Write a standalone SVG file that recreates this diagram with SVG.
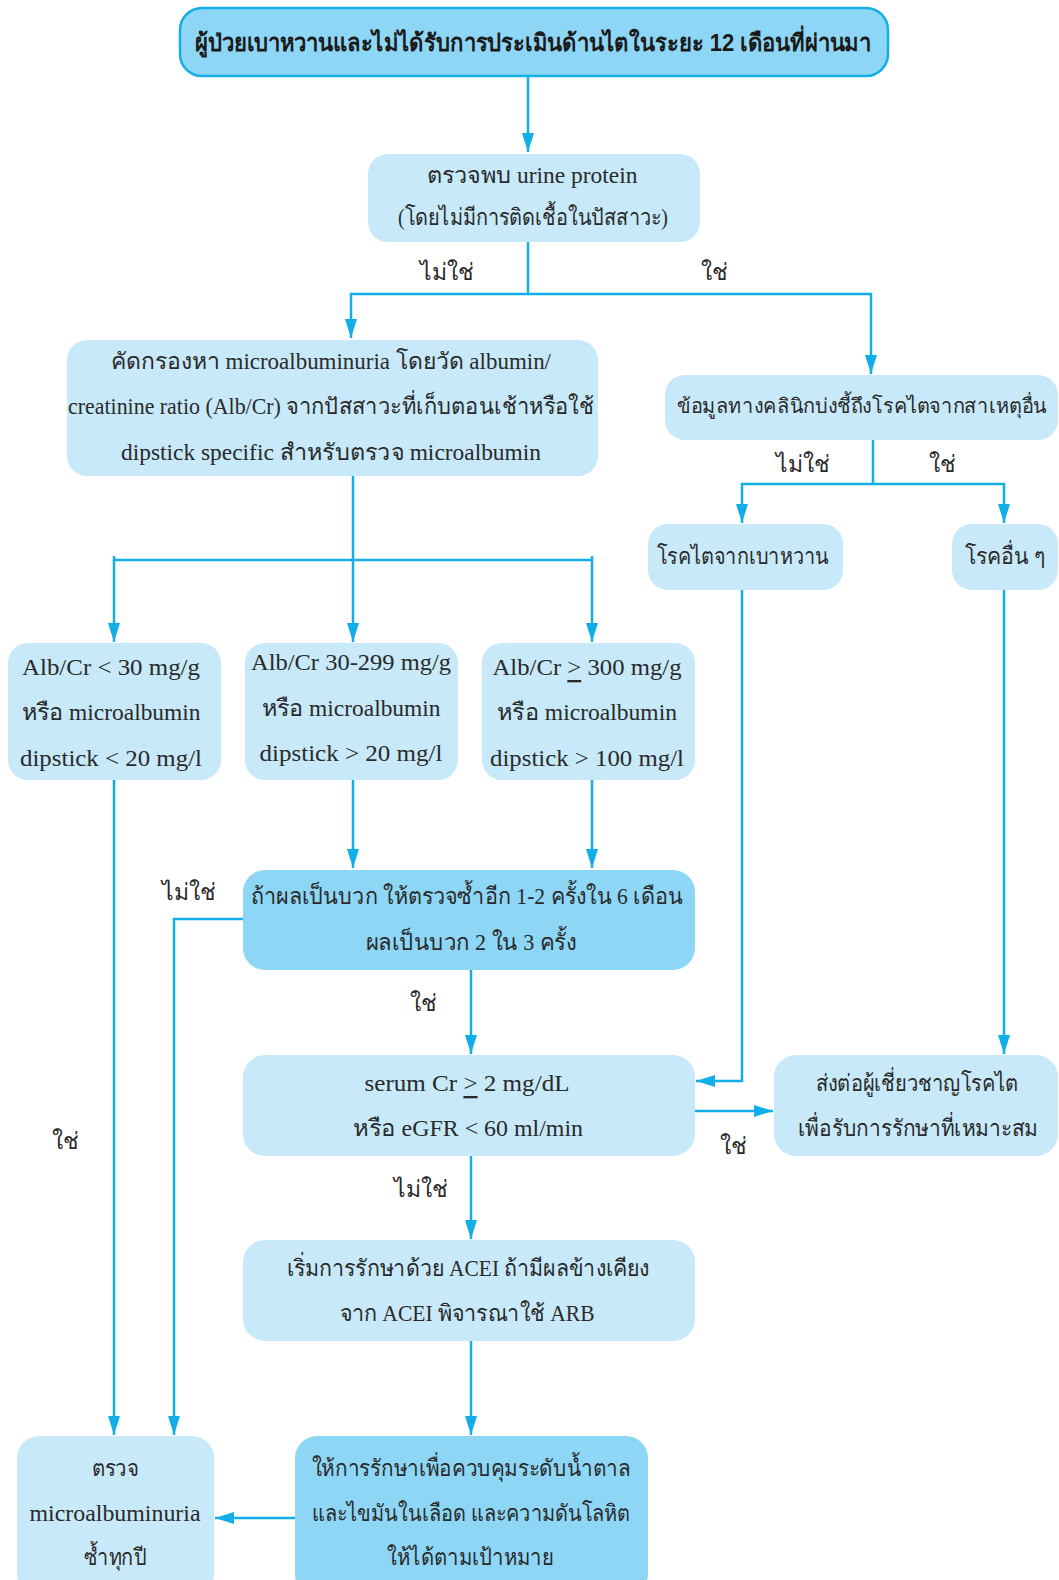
<svg xmlns="http://www.w3.org/2000/svg" width="1059" height="1580" viewBox="0 0 1059 1580">
<defs>
<marker id="ah" markerUnits="userSpaceOnUse" markerWidth="20" markerHeight="12" refX="19" refY="6" orient="auto">
<path d="M0,0 L19,6 L0,12 z" fill="#12aee8"/>
</marker>
<style>
.lt{fill:#c7e9f9}
.dk{fill:#8dd6f6}
.t{font-family:"Liberation Serif","Noto Sans",serif;font-size:23px;fill:#2a2a2a;text-anchor:middle;dominant-baseline:central}
.h{font-family:"Liberation Sans","Noto Sans",sans-serif;font-size:24px;font-weight:bold;fill:#1a1a1a;text-anchor:middle;dominant-baseline:central}
.c{fill:none;stroke:#12aee8;stroke-width:2.5}
</style>
</defs>
<rect width="1059" height="1580" fill="#ffffff"/>
<g id="connectors">
<path class="c" d="M528,76 V152" marker-end="url(#ah)"/>
<path class="c" d="M528,242 V294 H351 V338" marker-end="url(#ah)"/>
<path class="c" d="M528,294 H871 V374" marker-end="url(#ah)"/>
<path class="c" d="M873,440 V484 H742 V523" marker-end="url(#ah)"/>
<path class="c" d="M873,484 H1004 V523" marker-end="url(#ah)"/>
<path class="c" d="M353,476 V642" marker-end="url(#ah)"/>
<path class="c" d="M114,556 V560 H592 V556 M592,560 V642" marker-end="url(#ah)"/>
<path class="c" d="M114,560 V642" marker-end="url(#ah)"/>
<path class="c" d="M114,780 V1435" marker-end="url(#ah)"/>
<path class="c" d="M353,780 V868" marker-end="url(#ah)"/>
<path class="c" d="M592,780 V868" marker-end="url(#ah)"/>
<path class="c" d="M243,919 H174 V1435" marker-end="url(#ah)"/>
<path class="c" d="M471,970 V1054" marker-end="url(#ah)"/>
<path class="c" d="M742,590 V1081 H696" marker-end="url(#ah)"/>
<path class="c" d="M1004,590 V1054" marker-end="url(#ah)"/>
<path class="c" d="M695,1111 H773" marker-end="url(#ah)"/>
<path class="c" d="M471,1156 V1239" marker-end="url(#ah)"/>
<path class="c" d="M471,1341 V1435" marker-end="url(#ah)"/>
<path class="c" d="M295,1518 H215" marker-end="url(#ah)"/>
</g>
<g id="labels">
<text class="t" x="447" y="272">ไม่ใช่</text>
<text class="t" x="714" y="272">ใช่</text>
<text class="t" x="803" y="464">ไม่ใช่</text>
<text class="t" x="942" y="464">ใช่</text>
<text class="t" x="189" y="892">ไม่ใช่</text>
<text class="t" x="423" y="1003">ใช่</text>
<text class="t" x="733" y="1146">ใช่</text>
<text class="t" x="421" y="1189">ไม่ใช่</text>
<text class="t" x="65" y="1141">ใช่</text>
</g>
<g id="n1">
<rect x="180" y="8" width="708" height="68" rx="22" fill="#8dd6f6" stroke="#12aee8" stroke-width="2.5"/>
<text class="h" x="533" y="42" textLength="676" lengthAdjust="spacingAndGlyphs">ผู้ป่วยเบาหวานและไม่ได้รับการประเมินด้านไตในระยะ 12 เดือนที่ผ่านมา</text>
</g>
<g id="n2">
<rect class="lt" x="368" y="154" width="332" height="88" rx="20"/>
<text class="t" x="532" y="175" textLength="211" lengthAdjust="spacingAndGlyphs">ตรวจพบ urine protein</text>
<text class="t" x="533" y="217" textLength="270" lengthAdjust="spacingAndGlyphs">(โดยไม่มีการติดเชื้อในปัสสาวะ)</text>
</g>
<g id="n3">
<rect class="lt" x="67" y="340" width="531" height="136" rx="20"/>
<text class="t" x="331" y="361" textLength="440" lengthAdjust="spacingAndGlyphs">คัดกรองหา microalbuminuria โดยวัด albumin/</text>
<text class="t" x="331" y="406" textLength="526" lengthAdjust="spacingAndGlyphs">creatinine ratio (Alb/Cr) จากปัสสาวะที่เก็บตอนเช้าหรือใช้</text>
<text class="t" x="331" y="452" textLength="420" lengthAdjust="spacingAndGlyphs">dipstick specific สำหรับตรวจ microalbumin</text>
</g>
<g id="n4">
<rect class="lt" x="665" y="375" width="393" height="65" rx="20"/>
<text class="t" x="862" y="406" style="font-size:20.5px" textLength="370" lengthAdjust="spacingAndGlyphs">ข้อมูลทางคลินิกบ่งชี้ถึงโรคไตจากสาเหตุอื่น</text>
</g>
<g id="n5">
<rect class="lt" x="648" y="524" width="195" height="66" rx="20"/>
<text class="t" x="743" y="556" textLength="172" lengthAdjust="spacingAndGlyphs">โรคไตจากเบาหวาน</text>
</g>
<g id="n6">
<rect class="lt" x="952" y="524" width="106" height="66" rx="20"/>
<text class="t" x="1005" y="556" textLength="80" lengthAdjust="spacingAndGlyphs">โรคอื่น ๆ</text>
</g>
<g id="n7">
<rect class="lt" x="8" y="643" width="213" height="137" rx="20"/>
<text class="t" x="111" y="667" textLength="178" lengthAdjust="spacingAndGlyphs">Alb/Cr &lt; 30 mg/g</text>
<text class="t" x="111" y="712" textLength="179" lengthAdjust="spacingAndGlyphs">หรือ microalbumin</text>
<text class="t" x="111" y="758" textLength="182" lengthAdjust="spacingAndGlyphs">dipstick &lt; 20 mg/l</text>
</g>
<g id="n8">
<rect class="lt" x="245" y="643" width="213" height="137" rx="20"/>
<text class="t" x="351" y="662" textLength="200" lengthAdjust="spacingAndGlyphs">Alb/Cr 30-299 mg/g</text>
<text class="t" x="351" y="708" textLength="179" lengthAdjust="spacingAndGlyphs">หรือ microalbumin</text>
<text class="t" x="351" y="753" textLength="183" lengthAdjust="spacingAndGlyphs">dipstick &gt; 20 mg/l</text>
</g>
<g id="n9">
<rect class="lt" x="482" y="643" width="213" height="137" rx="20"/>
<text class="t" x="587" y="667" textLength="189" lengthAdjust="spacingAndGlyphs">Alb/Cr <tspan text-decoration="underline">&gt;</tspan> 300 mg/g</text>
<text class="t" x="587" y="712" textLength="180" lengthAdjust="spacingAndGlyphs">หรือ microalbumin</text>
<text class="t" x="587" y="758" textLength="194" lengthAdjust="spacingAndGlyphs">dipstick &gt; 100 mg/l</text>
</g>
<g id="n10">
<rect class="dk" x="243" y="870" width="452" height="100" rx="22"/>
<text class="t" x="467" y="896" textLength="432" lengthAdjust="spacingAndGlyphs">ถ้าผลเป็นบวก ให้ตรวจซ้ำอีก 1-2 ครั้งใน 6 เดือน</text>
<text class="t" x="471" y="942" textLength="211" lengthAdjust="spacingAndGlyphs">ผลเป็นบวก 2 ใน 3 ครั้ง</text>
</g>
<g id="n11">
<rect class="lt" x="243" y="1055" width="452" height="101" rx="22"/>
<text class="t" x="467" y="1083" textLength="205" lengthAdjust="spacingAndGlyphs">serum Cr <tspan text-decoration="underline">&gt;</tspan> 2 mg/dL</text>
<text class="t" x="468" y="1128" textLength="230" lengthAdjust="spacingAndGlyphs">หรือ eGFR &lt; 60 ml/min</text>
</g>
<g id="n12">
<rect class="lt" x="774" y="1055" width="284" height="101" rx="22"/>
<text class="t" x="917" y="1083" textLength="203" lengthAdjust="spacingAndGlyphs">ส่งต่อผู้เชี่ยวชาญโรคไต</text>
<text class="t" x="918" y="1128" textLength="240" lengthAdjust="spacingAndGlyphs">เพื่อรับการรักษาที่เหมาะสม</text>
</g>
<g id="n13">
<rect class="lt" x="243" y="1240" width="452" height="101" rx="22"/>
<text class="t" x="468" y="1268" textLength="363" lengthAdjust="spacingAndGlyphs">เริ่มการรักษาด้วย ACEI ถ้ามีผลข้างเคียง</text>
<text class="t" x="467" y="1313" textLength="255" lengthAdjust="spacingAndGlyphs">จาก ACEI พิจารณาใช้ ARB</text>
</g>
<g id="n14">
<rect class="lt" x="17" y="1436" width="197" height="160" rx="22"/>
<text class="t" x="115" y="1468" textLength="47" lengthAdjust="spacingAndGlyphs">ตรวจ</text>
<text class="t" x="115" y="1513" textLength="171" lengthAdjust="spacingAndGlyphs">microalbuminuria</text>
<text class="t" x="115" y="1557" textLength="63" lengthAdjust="spacingAndGlyphs">ซ้ำทุกปี</text>
</g>
<g id="n15">
<rect class="dk" x="295" y="1436" width="353" height="160" rx="22"/>
<text class="t" x="471" y="1468" textLength="319" lengthAdjust="spacingAndGlyphs">ให้การรักษาเพื่อควบคุมระดับน้ำตาล</text>
<text class="t" x="471" y="1513" textLength="319" lengthAdjust="spacingAndGlyphs">และไขมันในเลือด และความดันโลหิต</text>
<text class="t" x="470" y="1557" textLength="166" lengthAdjust="spacingAndGlyphs">ให้ได้ตามเป้าหมาย</text>
</g>
</svg>
